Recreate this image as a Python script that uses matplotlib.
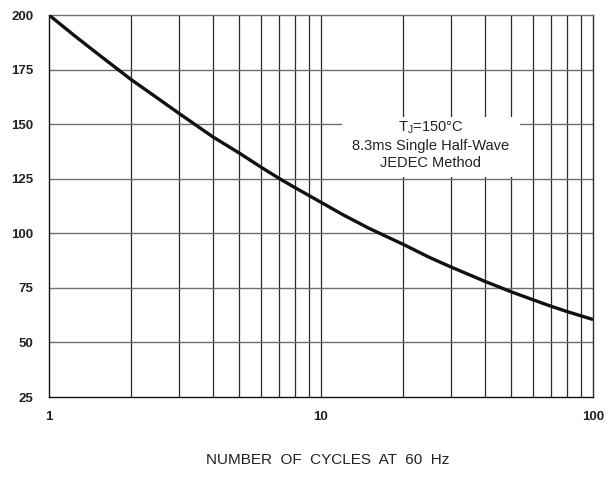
import matplotlib
matplotlib.use("Agg")
import matplotlib.pyplot as plt
from matplotlib.ticker import FixedLocator, NullLocator, FixedFormatter

cycles = [1, 1.25, 1.5, 2, 2.5, 3, 4, 5, 6, 7, 8, 10, 12, 15, 20, 25, 30, 40, 50, 60, 70, 80, 100]
current = [200, 190.2, 182.5, 170.5, 162, 155, 144.2, 136.8, 130.4, 125.2, 121, 114.2,
           108.6, 102.3, 95, 89, 84.6, 78, 73.2, 69.6, 66.6, 64.2, 60.5]
y_ticks = [25, 50, 75, 100, 125, 150, 175, 200]
x_ticks = [1, 10, 100]
x_tick_labels = ["1", "10", "100"]
x_grid = [2, 3, 4, 5, 6, 7, 8, 9, 10, 20, 30, 40, 50, 60, 70, 80, 90]
x_label = "NUMBER  OF  CYCLES  AT  60  Hz"
note_lines = ["T$_{\\mathregular{J}}$=150\u00b0C", "8.3ms Single Half-Wave", "JEDEC Method"]

plt.rcParams['font.family'] = ['Liberation Sans', 'DejaVu Sans']
fig = plt.figure(figsize=(6.08, 4.8), dpi=100)
ax = fig.add_axes([49/608, 1-397/480, (593-49)/608, (397-15)/480])
ax.set_xscale('log')
ax.set_xlim(1, 100)
ax.set_ylim(25, 200)

for xv in x_grid:
    ax.axvline(xv, color='#2a2a2a', lw=0.9, zorder=1)
for yv in y_ticks[1:-1]:
    ax.axhline(yv, color='#6e6e6e', lw=1.0, zorder=1)

# white note box covering grid
ax.fill_between([11.9, 54], 125.6, 153.3, color='white', zorder=2, lw=0)

ax.plot(cycles, current, color='#111111', lw=2.4, zorder=3,
        solid_capstyle='butt', solid_joinstyle='round')

ax.xaxis.set_major_locator(FixedLocator(x_ticks))
ax.xaxis.set_major_formatter(FixedFormatter(x_tick_labels))
ax.xaxis.set_minor_locator(NullLocator())
ax.set_yticks(y_ticks)
ax.tick_params(length=0, labelsize=9.5)
ax.tick_params(axis='y', pad=11)
ax.tick_params(axis='x', pad=10)
for lab in ax.get_xticklabels() + ax.get_yticklabels():
    lab.set_fontweight('bold')
    lab.set_color('#222222')

ax.spines['left'].set_color('#111111')
ax.spines['bottom'].set_color('#111111')
ax.spines['top'].set_color('#6e6e6e')
ax.spines['right'].set_color('#2a2a2a')
for s in ax.spines.values():
    s.set_linewidth(1.0)

xc = (11.9 * 54) ** 0.5
ys = [148.4, 139.8, 132.0]
for t, yv in zip(note_lines, ys):
    ax.text(xc, yv, t, ha='center', va='center', fontsize=10.5, color='#222222', zorder=4)

fig.text(328/608, 1-460/480, x_label, ha='center', va='center', fontsize=11, color='#222222')

fig.savefig('out.png', dpi=100)
